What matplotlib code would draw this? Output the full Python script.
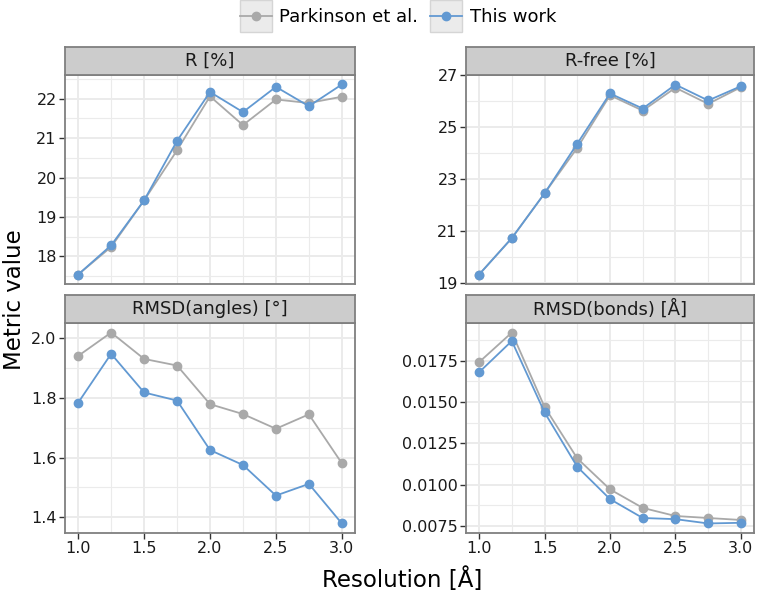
import matplotlib
matplotlib.use("Agg")
import matplotlib.pyplot as plt
from matplotlib.patches import Rectangle
from matplotlib.ticker import MultipleLocator, FormatStrFormatter

# resolution grid (Å)
resolution = [1.0, 1.25, 1.5, 1.75, 2.0, 2.25, 2.5, 2.75, 3.0]

# R [%]
r_parkinson = [17.54, 18.24, 19.42, 20.69, 22.06, 21.33, 21.98, 21.89, 22.05]
r_this = [17.54, 18.28, 19.42, 20.93, 22.17, 21.66, 22.30, 21.81, 22.36]

# R-free [%]
rfree_parkinson = [19.33, 20.73, 22.45, 24.20, 26.22, 25.63, 26.51, 25.89, 26.53]
rfree_this = [19.33, 20.73, 22.45, 24.36, 26.29, 25.71, 26.63, 26.02, 26.57]

# RMSD(angles) [°]
angles_parkinson = [1.939, 2.017, 1.929, 1.907, 1.778, 1.745, 1.696, 1.744, 1.581]
angles_this = [1.783, 1.946, 1.817, 1.790, 1.625, 1.575, 1.473, 1.512, 1.380]

# RMSD(bonds) [Å]
bonds_parkinson = [0.01740, 0.01919, 0.01470, 0.01159, 0.00972, 0.00860, 0.00811, 0.00799, 0.00787]
bonds_this = [0.01679, 0.01868, 0.01437, 0.01108, 0.00913, 0.00799, 0.00792, 0.00766, 0.00770]

series_names = ["Parkinson et al.", "This work"]
panel_titles = ["R [%]", "R-free [%]", "RMSD(angles) [°]", "RMSD(bonds) [Å]"]
panel_data = [(r_parkinson, r_this), (rfree_parkinson, rfree_this),
              (angles_parkinson, angles_this), (bonds_parkinson, bonds_this)]
yticks = [[18, 19, 20, 21, 22], [19, 21, 23, 25, 27],
          [1.4, 1.6, 1.8, 2.0], [0.0075, 0.0100, 0.0125, 0.0150, 0.0175]]
yfmt = ["%g", "%g", "%.1f", "%.4f"]
xticks = [1.0, 1.5, 2.0, 2.5, 3.0]

gray_c = "#a9a9a9"
blue_c = "#6299d2"
border_c = "#7f7f7f"
grid_c = "#ebebeb"

W, H = 759, 593
fig = plt.figure(figsize=(W / 100, H / 100), dpi=100)

# panel boxes in pixels: (left, top, right, bottom) of the plotting area
cols = [(65, 355), (466, 754)]
rows = [(75, 284), (323, 533)]
strip_h = 28

def px_rect(l, t, r, b):
    return [l / W, 1 - b / H, (r - l) / W, (b - t) / H]

for i, (title, (park, this)) in enumerate(zip(panel_titles, panel_data)):
    row, col = divmod(i, 2)
    l, r = cols[col]
    t, b = rows[row]
    ax = fig.add_axes(px_rect(l, t, r, b))
    ax.plot(resolution, park, "-o", color=gray_c, lw=1.3, ms=6, zorder=3)
    ax.plot(resolution, this, "-o", color=blue_c, lw=1.3, ms=6, zorder=4)
    ax.margins(x=0.05, y=0.05)
    ax.set_xlim(0.9, 3.1)
    ax.set_xticks(xticks)
    ax.xaxis.set_minor_locator(MultipleLocator(0.25))
    ax.set_yticks(yticks[i])
    step = yticks[i][1] - yticks[i][0]
    ax.yaxis.set_minor_locator(MultipleLocator(step / 2))
    ax.yaxis.set_major_formatter(FormatStrFormatter(yfmt[i]))
    ax.grid(which="major", color=grid_c, lw=1.4, zorder=0)
    ax.grid(which="minor", color=grid_c, lw=0.8, zorder=0)
    ax.set_axisbelow(True)
    for s in ax.spines.values():
        s.set_color(border_c)
        s.set_linewidth(1.3)
    ax.tick_params(which="major", direction="out", length=4, width=1,
                   color="#333333", labelsize=11.5, labelcolor="#1a1a1a", pad=2)
    ax.tick_params(which="minor", length=0)
    if row == 0:
        ax.tick_params(axis="x", which="both", bottom=False, labelbottom=False)

    # facet strip
    sax = fig.add_axes(px_rect(l, t - strip_h, r, t))
    sax.set_facecolor("#cccccc")
    sax.set_xticks([])
    sax.set_yticks([])
    for s in sax.spines.values():
        s.set_color(border_c)
        s.set_linewidth(1.3)
    sax.text(0.5, 0.5, title, ha="center", va="center", fontsize=13,
             color="#1a1a1a", transform=sax.transAxes)

fig.text(402 / W, 1 - 580 / H, "Resolution [Å]", ha="center", va="center", fontsize=16.5)
fig.text(15 / W, 1 - 300 / H, "Metric value", ha="center", va="center",
         rotation=90, fontsize=16.5)

# legend on top
handles = [plt.Line2D([], [], color=gray_c, marker="o", lw=1.3, ms=6),
           plt.Line2D([], [], color=blue_c, marker="o", lw=1.3, ms=6)]
leg = fig.legend(handles, series_names, loc="center", ncol=2,
                 bbox_to_anchor=(398 / W, 1 - 17.5 / H), frameon=False,
                 fontsize=13, handlelength=1.78, handletextpad=0.4,
                 columnspacing=0.65)
fig.canvas.draw()
renderer = fig.canvas.get_renderer()
for h in leg.legend_handles:
    bb = h.get_window_extent(renderer)
    cx = (bb.x0 + bb.x1) / 2
    cy = (bb.y0 + bb.y1) / 2
    box = Rectangle(((cx - 16) / W, (cy - 16) / H), 32 / W, 32 / H,
                    transform=fig.transFigure, facecolor="#ebebeb",
                    edgecolor="#d5d5d5", lw=1, zorder=1)
    fig.add_artist(box)

fig.savefig("out.png", dpi=100)
